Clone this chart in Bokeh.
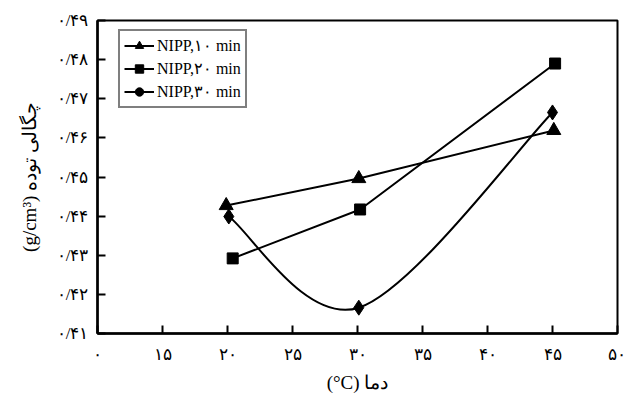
from bokeh.plotting import figure
from bokeh.models import FixedTicker, Range1d, Legend, LegendItem, ColumnDataSource
from bokeh.embed import file_html
from bokeh.resources import INLINE

# ---- data ----
x_ticks = [10, 15, 20, 25, 30, 35, 40, 45, 50]
x_tick_labels = ["۰", "۱۵", "۲۰", "۲۵", "۳۰", "۳۵", "۴۰", "۴۵", "۵۰"]
y_ticks = [0.41, 0.42, 0.43, 0.44, 0.45, 0.46, 0.47, 0.48, 0.49]
y_tick_labels = ["۰/۴۱", "۰/۴۲", "۰/۴۳", "۰/۴۴", "۰/۴۵", "۰/۴۶", "۰/۴۷", "۰/۴۸", "۰/۴۹"]

names = ["NIPP,۱۰ min", "NIPP,۲۰ min", "NIPP,۳۰ min"]
temp_10 = [19.9, 30.1, 45.1]
dens_10 = [0.4427, 0.4496, 0.4619]
temp_20 = [20.4, 30.2, 45.2]
dens_20 = [0.4292, 0.4417, 0.4790]
temp_30 = [20.1, 30.1, 45.0]
dens_30 = [0.4399, 0.4166, 0.4665]

x_title = "(°C) دما"
y_title = "(g/cm³) چگالی توده"

SERIF = "Liberation Serif"

p = figure(width=625, height=402, output_backend="svg", toolbar_location=None,
           x_range=Range1d(10, 50), y_range=Range1d(0.41, 0.49),
           min_border_left=97, min_border_right=8, min_border_top=20, min_border_bottom=69)
p.background_fill_color = "white"
p.border_fill_color = "white"
p.grid.visible = False
p.outline_line_color = "black"
p.outline_line_width = 2

for ax in (p.xaxis[0], p.yaxis[0]):
    ax.axis_line_width = 2.5
    ax.axis_line_color = "black"
    ax.major_tick_line_width = 2
    ax.major_tick_line_color = "black"
    ax.major_tick_in = 8
    ax.major_tick_out = 0
    ax.minor_tick_in = 0
    ax.minor_tick_out = 0
    ax.major_label_text_font = SERIF
    ax.major_label_text_font_size = "17px"
    ax.major_label_text_color = "black"
    ax.axis_label_text_font = SERIF
    ax.axis_label_text_font_size = "19px"
    ax.axis_label_text_font_style = "normal"
    ax.axis_label_text_color = "black"

p.xaxis.ticker = FixedTicker(ticks=x_ticks)
p.xaxis.major_label_overrides = {t: l for t, l in zip(x_ticks, x_tick_labels)}
p.yaxis.ticker = FixedTicker(ticks=y_ticks)
p.yaxis.major_label_overrides = {t: l for t, l in zip(y_ticks, y_tick_labels)}
p.xaxis.major_label_standoff = 11
p.yaxis.major_label_standoff = 9
p.xaxis.axis_label = x_title
p.yaxis.axis_label = y_title
p.xaxis.axis_label_standoff = 5
p.yaxis.axis_label_standoff = 14

# series 10 min
l10 = p.line(temp_10, dens_10, line_color="black", line_width=2)
m10 = p.scatter(temp_10, dens_10, marker="triangle", size=14, color="black")
# series 20 min
l20 = p.line(temp_20, dens_20, line_color="black", line_width=2)
m20 = p.scatter(temp_20, dens_20, marker="square", size=11, color="black")

# series 30 min: smoothed curve (Catmull-Rom style bezier through the points)
n = len(temp_30)
x0s, y0s, x1s, y1s, cx0, cy0, cx1, cy1 = [], [], [], [], [], [], [], []
for i in range(n - 1):
    xa, ya = temp_30[i], dens_30[i]
    xb, yb = temp_30[i + 1], dens_30[i + 1]
    xp, yp = (temp_30[i - 1], dens_30[i - 1]) if i > 0 else (xa, ya)
    xn, yn = (temp_30[i + 2], dens_30[i + 2]) if i + 2 < n else (xb, yb)
    x0s.append(xa); y0s.append(ya); x1s.append(xb); y1s.append(yb)
    cx0.append(xa + (xb - xp) / 6); cy0.append(ya + (yb - yp) / 6)
    cx1.append(xb - (xn - xa) / 6); cy1.append(yb - (yn - ya) / 6)
p.bezier(x0=x0s, y0=y0s, x1=x1s, y1=y1s, cx0=cx0, cy0=cy0, cx1=cx1, cy1=cy1,
         line_color="black", line_width=2)
p.scatter(temp_30, dens_30, marker="diamond", size=15, color="black")

# legend proxies for 30 min (legend shows a circle marker); NaN so nothing is drawn in the plot
proxy = ColumnDataSource(data=dict(x=[float("nan")], y=[float("nan")]))
l30 = p.line("x", "y", source=proxy, line_color="black", line_width=2)
m30 = p.scatter("x", "y", source=proxy, marker="circle", size=9, color="black")

legend = Legend(items=[
    LegendItem(label=names[0], renderers=[l10, m10]),
    LegendItem(label=names[1], renderers=[l20, m20]),
    LegendItem(label=names[2], renderers=[l30, m30]),
], location=(21, 225))
legend.label_text_font = SERIF
legend.label_text_font_size = "16px"
legend.label_text_color = "black"
legend.border_line_color = "black"
legend.border_line_width = 2
legend.background_fill_alpha = 1
legend.glyph_width = 30
legend.glyph_height = 21
legend.label_height = 21
legend.spacing = 2
legend.padding = 4
legend.margin = 0
legend.label_standoff = 3
p.add_layout(legend)

open("out.html", "w").write(file_html(p, INLINE))
